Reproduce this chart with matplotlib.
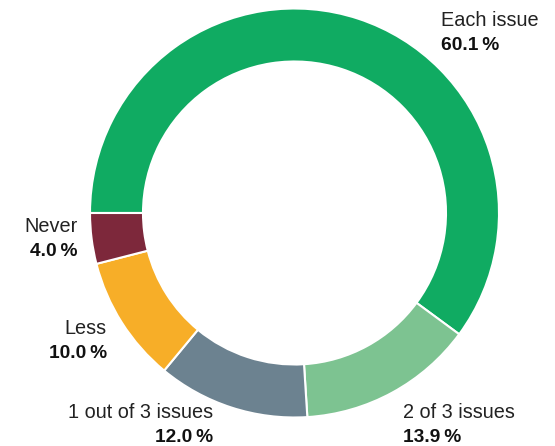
import matplotlib
matplotlib.use("Agg")
import matplotlib.pyplot as plt

labels = ["Each issue", "2 of 3 issues", "1 out of 3 issues", "Less", "Never"]
shares = [60.1, 13.9, 12.0, 10.0, 4.0]
colors = ["#10AB62", "#7DC391", "#6C8290", "#F7AE28", "#7D283B"]

plt.rcParams["font.family"] = ["Liberation Sans", "DejaVu Sans"]

fig = plt.figure(figsize=(5.55, 4.46), dpi=100)
ax = fig.add_axes([0, 0, 1, 1])

# donut, starting at 9 o'clock and running clockwise
ax.pie(shares, colors=colors, startangle=180, counterclock=False,
       center=(294.5, 446 - 213), radius=204.5,
       wedgeprops=dict(width=53, edgecolor="white", linewidth=1.5),
       frame=True)
ax.set_xlim(0, 555)
ax.set_ylim(0, 446)
ax.set_aspect("equal")
ax.axis("off")

# label anchors (x, baseline y in pixels from top, alignment)
spots = [(441, 26, "left"), (403, 418, "left"), (213, 418, "right"),
         (107, 334, "right"), (78, 232, "right")]

for name, val, (x, y, ha) in zip(labels, shares, spots):
    ax.text(x, 446 - y, name, fontsize=14.3, ha=ha, va="baseline", color="#222222")
    ax.text(x, 446 - y - 23.5, f"{val:.1f}\u2009%", fontsize=13.8, ha=ha,
            va="baseline", fontweight="bold", color="#111111")

fig.savefig("out.png", dpi=100)
